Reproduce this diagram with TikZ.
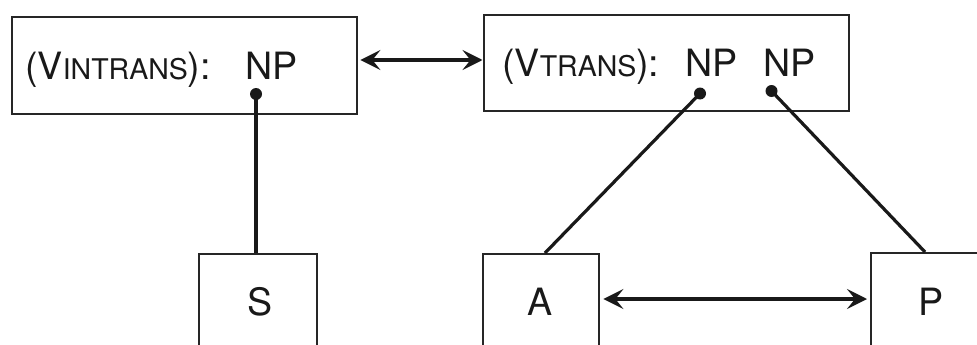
\documentclass[tikz,border=0pt]{standalone}
\usepackage{fontspec}
\setmainfont{TeX Gyre Heros}
\usetikzlibrary{arrows.meta}
\newcommand{\bigf}{\fontsize{37.6}{40}\selectfont}
\newcommand{\smf}{\fontsize{28.5}{30}\selectfont}
\begin{document}
\begin{tikzpicture}[x=1pt,y=-1pt,
  box/.style={draw=black!85,line width=2.4pt,rectangle,inner sep=0pt,anchor=north west},
  lbl/.style={inner sep=0pt,anchor=base west,font=\bigf,text=black!90},
  clbl/.style={inner sep=0pt,anchor=base,font=\bigf,text=black!90},
  conn/.style={line width=3.2pt,draw=black!90},
  dbl/.style={line width=3.4pt,draw=black!90,{Stealth[length=20pt,width=20pt,inset=8pt]}-{Stealth[length=20pt,width=20pt,inset=8pt]}},
  dotn/.style={circle,fill=black!90,inner sep=0pt,minimum size=12pt}]
\useasboundingbox (0,0) rectangle (977,345);
\clip (0,0) rectangle (977,345);
% top boxes
\node[box,minimum width=345pt,minimum height=97pt] (vi) at (11,16) {};
\node[box,minimum width=365pt,minimum height=96pt] (vt) at (482.5,14) {};
% labels
\node[lbl] (tvi) at (25,79) {(V{\smf INTRANS}):};
\node[lbl] (np1) at (245,79) {NP};
\node[lbl] (tvt) at (502,77) {(V{\smf TRANS}):};
\node[lbl] (np2) at (685,77) {NP};
\node[lbl] (np3) at (763,77) {NP};
% bottom boxes
\node[box,minimum width=118pt,minimum height=150pt] (s) at (198,253) {};
\node[box,minimum width=116pt,minimum height=150pt] (a) at (482,253) {};
\node[box,minimum width=130pt,minimum height=150pt] (p) at (870,252) {};
\node[clbl] (st) at (260,315) {S};
\node[clbl] (at) at (540,315) {A};
\node[clbl] (pt) at (931,315) {P};
% dots
\node[dotn] (d1) at (256,94) {};
\node[dotn] (d2) at (700,93.5) {};
\node[dotn] (d3) at (771.5,91) {};
% end points
\coordinate (e1) at (256,253);
\coordinate (e2) at (545,253);
\coordinate (e3) at (925,252);
\coordinate (y1) at (0,60);
\coordinate (y2) at (0,299);
% connectors
\draw[conn] (d1.center) -- (e1);
\draw[conn] (d2.center) -- (e2);
\draw[conn] (d3.center) -- (e3);
\draw[dbl,shorten <=2pt,shorten >=0pt] (vi.east |- y1) -- (vt.west |- y1);
\draw[dbl,shorten <=3pt,shorten >=3pt] (a.east |- y2) -- (p.west |- y2);
\end{tikzpicture}
\end{document}
